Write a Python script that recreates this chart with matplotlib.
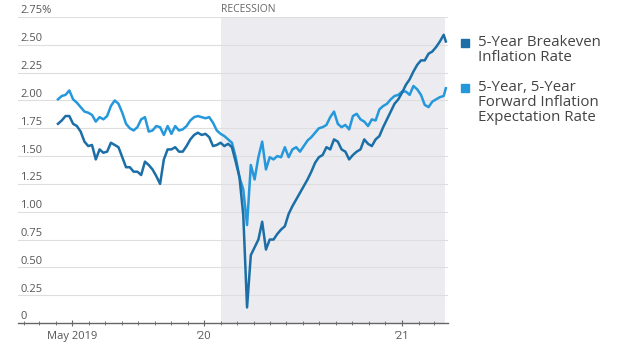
import matplotlib
matplotlib.use("Agg")
import matplotlib.pyplot as plt
import matplotlib.dates as mdates
import pandas as pd

plt.rcParams['font.family'] = ['Open Sans', 'DejaVu Sans']

# weekly (Friday) observations, plus the last print
dates = list(pd.date_range('2019-04-05', '2021-03-19', freq='W-FRI')) + [pd.Timestamp('2021-03-23')]

breakeven_5y = [
    1.79, 1.82, 1.86, 1.86, 1.79, 1.77, 1.72, 1.63, 1.59, 1.60,
    1.47, 1.56, 1.53, 1.54, 1.62, 1.60, 1.58, 1.49, 1.40, 1.40,
    1.36, 1.36, 1.33, 1.45, 1.42, 1.38, 1.32, 1.25, 1.47, 1.56,
    1.56, 1.58, 1.54, 1.54, 1.59, 1.65, 1.69, 1.71, 1.69, 1.70,
    1.67, 1.59, 1.60, 1.62, 1.59, 1.61, 1.58, 1.45, 1.31, 0.97,
    0.14, 0.61, 0.68, 0.75, 0.91, 0.66, 0.75, 0.75, 0.80, 0.84,
    0.87, 0.98, 1.05, 1.11, 1.17, 1.23, 1.29, 1.36, 1.44, 1.49,
    1.51, 1.58, 1.56, 1.65, 1.63, 1.56, 1.54, 1.47, 1.51, 1.54,
    1.56, 1.65, 1.61, 1.59, 1.65, 1.68, 1.76, 1.83, 1.90, 1.97,
    2.01, 2.07, 2.14, 2.19, 2.26, 2.32, 2.36, 2.36, 2.42, 2.44,
    2.48, 2.53, 2.59, 2.53,
]

forward_5y5y = [
    2.01, 2.04, 2.05, 2.09, 2.01, 1.98, 1.94, 1.90, 1.89, 1.87,
    1.81, 1.85, 1.83, 1.86, 1.95, 2.00, 1.97, 1.89, 1.79, 1.75,
    1.73, 1.76, 1.83, 1.85, 1.72, 1.73, 1.77, 1.76, 1.69, 1.77,
    1.70, 1.77, 1.73, 1.74, 1.77, 1.82, 1.85, 1.86, 1.85, 1.84,
    1.85, 1.80, 1.73, 1.70, 1.68, 1.65, 1.62, 1.49, 1.31, 1.20,
    0.88, 1.42, 1.29, 1.49, 1.63, 1.38, 1.49, 1.47, 1.50, 1.49,
    1.58, 1.49, 1.56, 1.58, 1.54, 1.59, 1.64, 1.67, 1.71, 1.75,
    1.76, 1.78, 1.85, 1.90, 1.79, 1.76, 1.78, 1.74, 1.86, 1.88,
    1.83, 1.81, 1.77, 1.83, 1.82, 1.92, 1.95, 1.97, 2.01, 2.04,
    2.05, 2.08, 2.08, 2.05, 2.13, 2.10, 2.05, 1.96, 1.94, 1.99,
    2.01, 2.03, 2.04, 2.11,
]

y_ticks = [0, 0.25, 0.5, 0.75, 1.0, 1.25, 1.5, 1.75, 2.0, 2.25, 2.5, 2.75]
y_labels = ['0', '0.25', '0.50', '0.75', '1.00', '1.25', '1.50', '1.75',
            '2.00', '2.25', '2.50', '2.75%']
x_label_dates = ['2019-05-01', '2020-01-01', '2021-01-01']
x_labels = ['May 2019', '\u201920', '\u201921']
recession = ('2020-02-01', '2021-03-21')
legend_labels = ['5-Year Breakeven\nInflation Rate',
                 '5-Year, 5-Year\nForward Inflation\nExpectation Rate']

dark = '#1b6fa6'
light = '#2598dc'
grey_text = '#555555'

fig = plt.figure(figsize=(6.2, 3.51), dpi=100)
ax = fig.add_axes([18 / 620, 28 / 351, 430 / 620, 306 / 351])

ax.axvspan(pd.Timestamp(recession[0]), pd.Timestamp(recession[1]),
           color='#ebebf0', zorder=0, lw=0)
for v in y_ticks[1:]:
    ax.axhline(v, color='#dedede', lw=0.8, zorder=1)

ax.plot(dates, forward_5y5y, color=light, lw=1.8, zorder=3)
ax.plot(dates, breakeven_5y, color=dark, lw=1.8, zorder=4)

ax.set_xlim(pd.Timestamp('2019-01-21'), pd.Timestamp('2021-03-27'))
ax.set_ylim(0, 2.75)

for s in ['top', 'right', 'left']:
    ax.spines[s].set_visible(False)
ax.spines['bottom'].set_color('#666666')
ax.spines['bottom'].set_linewidth(1.0)

# y labels sit just above the gridlines, at the left
ax.set_yticks([])
for v, lab in zip(y_ticks, y_labels):
    ax.text(0.005, v + 0.005, lab, transform=ax.get_yaxis_transform(),
            ha='left', va='bottom', fontsize=8, color=grey_text)

ax.xaxis.set_minor_locator(mdates.MonthLocator())
ax.set_xticks([pd.Timestamp(d) for d in x_label_dates])
ax.set_xticklabels(x_labels, fontsize=8, color=grey_text)
ax.tick_params(axis='x', which='major', direction='inout', length=5,
               color='#666666', pad=3)
ax.tick_params(axis='x', which='minor', direction='inout', length=3,
               color='#666666')

ax.text(pd.Timestamp(recession[0]), 1.005, 'RECESSION',
        transform=ax.get_xaxis_transform(), ha='left', va='bottom',
        fontsize=7.5, color='#666666')

# legend
for lab, col, ypos in zip(legend_labels, [dark, light], [308, 263]):
    fig.patches.append(plt.Rectangle((461 / 620, (ypos - 4) / 351), 8 / 620, 8 / 351,
                                     transform=fig.transFigure, color=col))
    fig.text(478 / 620, (ypos + 8) / 351, lab, ha='left', va='top',
             fontsize=10.8, color='#444444', linespacing=1.02)

fig.savefig('out.png', dpi=100)
